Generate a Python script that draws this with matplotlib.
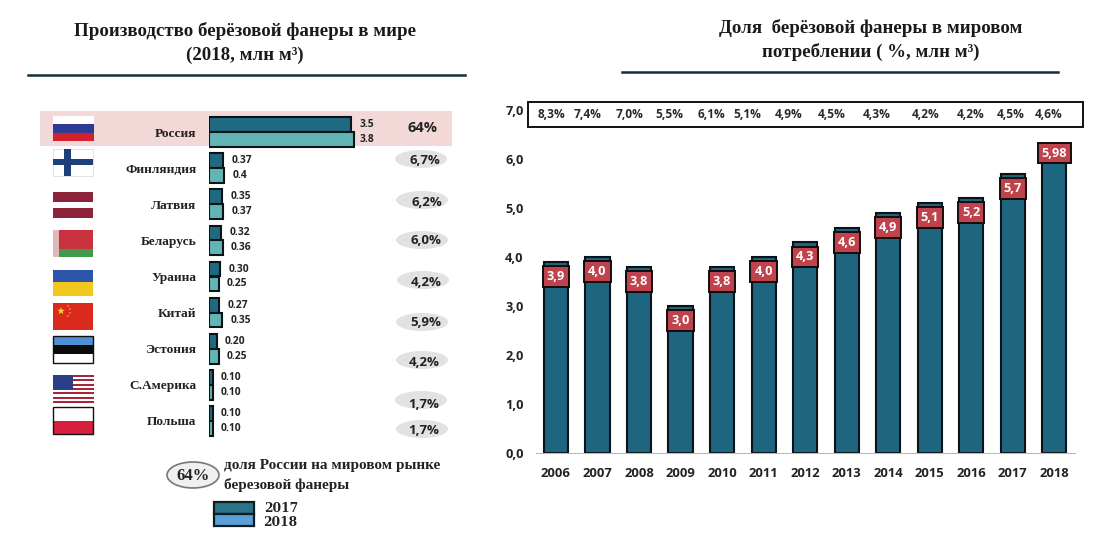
import matplotlib
matplotlib.use("Agg")
import matplotlib.pyplot as plt
from matplotlib.patches import Rectangle, Ellipse

W, H = 1120, 546
SERIF = "Liberation Serif"
SANS = "Open Sans"

# ---------- data ----------
countries = ["Россия", "Финляндия", "Латвия", "Беларусь", "Ураина", "Китай", "Эстония", "С.Америка", "Польша"]
bars_2017 = [3.72, 0.37, 0.35, 0.32, 0.30, 0.27, 0.20, 0.10, 0.10]
bars_2018 = [3.80, 0.40, 0.37, 0.36, 0.25, 0.35, 0.25, 0.10, 0.10]
labels_2017 = ["3.5", "0.37", "0.35", "0.32", "0.30", "0.27", "0.20", "0.10", "0.10"]
labels_2018 = ["3.8", "0.4", "0.37", "0.36", "0.25", "0.35", "0.25", "0.10", "0.10"]
shares = ["64%", "6,7%", "6,2%", "6,0%", "4,2%", "5,9%", "4,2%", "1,7%", "1,7%"]

years = [2006, 2007, 2008, 2009, 2010, 2011, 2012, 2013, 2014, 2015, 2016, 2017, 2018]
volume = [3.9, 4.0, 3.8, 3.0, 3.8, 4.0, 4.3, 4.6, 4.9, 5.1, 5.2, 5.7, 5.98]
volume_labels = ["3,9", "4,0", "3,8", "3,0", "3,8", "4,0", "4,3", "4,6", "4,9", "5,1", "5,2", "5,7", "5,98"]
share_row = ["8,3%", "7,4%", "7,0%", "5,5%", "6,1%", "5,1%", "4,9%", "4,5%", "4,3%", "4,2%", "4,2%", "4,5%", "4,6%"]
share_row_x = [551, 588, 630, 669, 711, 747, 789, 832, 877, 926, 971, 1011, 1049]

fig = plt.figure(figsize=(W / 100, H / 100), dpi=100, facecolor="white")


def axes_px(x0, y0, x1, y1, **kw):
    return fig.add_axes([x0 / W, 1 - y1 / H, (x1 - x0) / W, (y1 - y0) / H], **kw)


# ---------- background canvas in pixel coordinates ----------
bg = fig.add_axes([0, 0, 1, 1], zorder=0)
bg.set_xlim(0, W)
bg.set_ylim(H, 0)
bg.axis("off")


def rect(x0, y0, x1, y1, fc, ec="none", lw=0.0, z=2):
    bg.add_patch(Rectangle((x0, y0), x1 - x0, y1 - y0, fc=fc, ec=ec, lw=lw, zorder=z))


def stripes(x0, y0, x1, y1, colors, ec="none", lw=0.0):
    h = (y1 - y0) / len(colors)
    for i, c in enumerate(colors):
        rect(x0, y0 + i * h, x1, y0 + (i + 1) * h, c)
    if ec != "none":
        rect(x0, y0, x1, y1, "none", ec, lw, z=3)


# titles and rules
bg.text(245, 31, "Производство берёзовой фанеры в мире", family=SERIF, weight="bold", fontsize=13.6,
        ha="center", va="center", color="#1a1a1a")
bg.text(245, 55, "(2018, млн м³)", family=SERIF, weight="bold", fontsize=13.6,
        ha="center", va="center", color="#1a1a1a")
bg.plot([28, 465], [75, 75], color="#12303a", lw=1.8)
bg.text(871, 28, "Доля  берёзовой фанеры в мировом", family=SERIF, weight="bold", fontsize=13.6,
        ha="center", va="center", color="#1a1a1a")
bg.text(871, 52, "потреблении ( %, млн м³)", family=SERIF, weight="bold", fontsize=13.6,
        ha="center", va="center", color="#1a1a1a")
bg.plot([622, 1058], [72, 72], color="#12303a", lw=1.8)

# Russia highlight
rect(40, 111, 452, 146, "#f3d8d8", z=1)

# flags
stripes(53, 116, 94, 141, ["#ffffff", "#2f3a94", "#d3202a"])
rect(53, 149, 93, 176, "#ffffff", "#dddddd", 0.6)
rect(64, 149, 71, 176, "#1d3f7c")
rect(53, 159, 93, 165, "#1d3f7c")
stripes(53, 192, 93, 218, ["#8c2338", "#8c2338", "#ffffff", "#8c2338", "#8c2338"])
rect(53, 230, 93, 249, "#c8313e")
rect(53, 249, 93, 257, "#3f9a4e")
rect(53, 230, 59, 257, "#e0b8b8")
stripes(53, 268, 93, 296, ["#2a55a8", "#f2c81e"])
rect(53, 268, 93, 270, "#ffffff")
rect(53, 303, 93, 330, "#d92a1c")
bg.scatter([61, 68, 70, 70, 68], [311, 306, 309, 313, 316], s=[32, 3, 3, 3, 3], marker="*",
           color="#f7d93a", linewidths=0, zorder=3)
stripes(53, 336, 93, 363, ["#4f8fd3", "#0b0b0b", "#ffffff"], "#111111", 1.0)
stripes(53, 375, 94, 403, ["#a8263a", "#ffffff"] * 6 + ["#a8263a"])
rect(53, 375, 73, 390, "#2a3f86")
stripes(53, 407, 93, 434, ["#ffffff", "#d61f3c"], "#111111", 1.0)

# share ovals and values
share_xy = [(423, 128), (425, 161), (427, 202), (426, 241), (426, 282), (426, 323), (424, 363), (424, 404), (424, 431)]
oval_xy = [None, (421, 159), (422, 200), (422, 240), (423, 280), (422, 322), (422, 360), (421, 400), (422, 429)]
for i, (txt, (x, y), oval) in enumerate(zip(shares, share_xy, oval_xy)):
    if oval:
        bg.add_patch(Ellipse(oval, 52, 18, fc="#e2e2e2", ec="none", zorder=2))
    bg.text(x, y, txt, family=SANS, weight="bold", fontsize=10.5 if i == 0 else 9.5,
            ha="center", va="center", color="#222222", zorder=4)

# note and legend
bg.add_patch(Ellipse((193, 475), 52, 26, fc="#f0f0f0", ec="#777777", lw=1.2, zorder=2))
bg.text(193, 476, "64%", family=SERIF, weight="bold", fontsize=12, ha="center", va="center", color="#222222", zorder=3)
bg.text(224, 466, "доля России на мировом рынке", family=SERIF, weight="bold", fontsize=10.95, ha="left", va="center", color="#222222")
bg.text(224, 485, "березовой фанеры", family=SERIF, weight="bold", fontsize=10.95, ha="left", va="center", color="#222222")
rect(214, 502, 254, 514, "#2b7488", "#0c1d24", 1.6)
rect(214, 514, 254, 526, "#5b9fd6", "#0c1d24", 1.6)
bg.text(264, 509, "2017", family="DejaVu Serif", weight="bold", fontsize=8.8, ha="left", va="center", color="#222222")
bg.text(263, 523, "2018", family="DejaVu Serif", weight="bold", fontsize=8.8, ha="left", va="center", color="#222222")

# top share row
rect(528, 102, 1083, 127, "#ffffff", "#111111", 1.4)
for x, txt in zip(share_row_x, share_row):
    bg.text(x, 115, txt, family=SANS, weight="bold", fontsize=8.6, ha="center", va="center", color="#2a2a2a", zorder=4)

# ---------- left chart ----------
left = axes_px(209, 114, 362.0, 439.0, zorder=2)
left.patch.set_alpha(0)
left.set_xlim(0, 4)
left.set_ylim(8.5, -0.5)
pos = list(range(len(countries)))
h = 0.41
left.barh([p - h / 2 for p in pos], bars_2017, height=h, color="#1f6a80", edgecolor="#0a1418", linewidth=1.5)
left.barh([p + h / 2 for p in pos], bars_2018, height=h, color="#62b5b5", edgecolor="#0a1418", linewidth=1.5)
for p, v17, v18, t17, t18 in zip(pos, bars_2017, bars_2018, labels_2017, labels_2018):
    left.annotate(t17, (v17, p - h / 2), xytext=(5.8, 0), textcoords="offset points", family=SANS, weight="bold",
                  fontsize=7.4, ha="left", va="center", color="#222222")
    left.annotate(t18, (v18, p + h / 2), xytext=(5.8 if p else 3.6, 0), textcoords="offset points", family=SANS, weight="bold",
                  fontsize=7.4, ha="left", va="center", color="#222222")
left.set_xticks([])
left.set_yticks(pos)
left.set_yticklabels(countries, family=SERIF, weight="bold", fontsize=9.6, color="#222222")
left.tick_params(axis="y", length=0, pad=9)
for s in left.spines.values():
    s.set_visible(False)

# ---------- right chart ----------
right = axes_px(536, 110, 1075, 453, zorder=2)
right.patch.set_alpha(0)
right.set_xlim(-0.48, 12.5)
right.set_ylim(0, 7)
xpos = list(range(len(years)))
right.bar(xpos, volume, width=0.58, color="#1e6580", edgecolor="#0a1418", linewidth=1.5)
for x, v, t in zip(xpos, volume, volume_labels):
    dy = 5 if t == "5,98" else -10.5
    right.annotate(t, (x, v), xytext=(0, dy), textcoords="offset points", family=SANS, weight="bold",
                   fontsize=9.2, ha="center", va="center", color="white", zorder=5,
                   bbox=dict(boxstyle="square,pad=0.3", fc="#bf434c", ec="#160b0c", lw=1.4))
right.set_xticks(xpos)
right.set_xticklabels(years, family=SANS, weight="bold", fontsize=9.4, color="#222222")
right.set_yticks(range(8))
right.set_yticklabels([f"{i},0" for i in range(8)], family=SANS, weight="bold", fontsize=9.2, color="#222222")
right.tick_params(axis="y", length=0, pad=9)
right.tick_params(axis="x", length=0, pad=10)
for s in ("top", "left", "right"):
    right.spines[s].set_visible(False)
right.spines["bottom"].set_color("#bbbbbb")
right.spines["bottom"].set_linewidth(0.8)

fig.savefig("out.png", dpi=100, facecolor="white")
